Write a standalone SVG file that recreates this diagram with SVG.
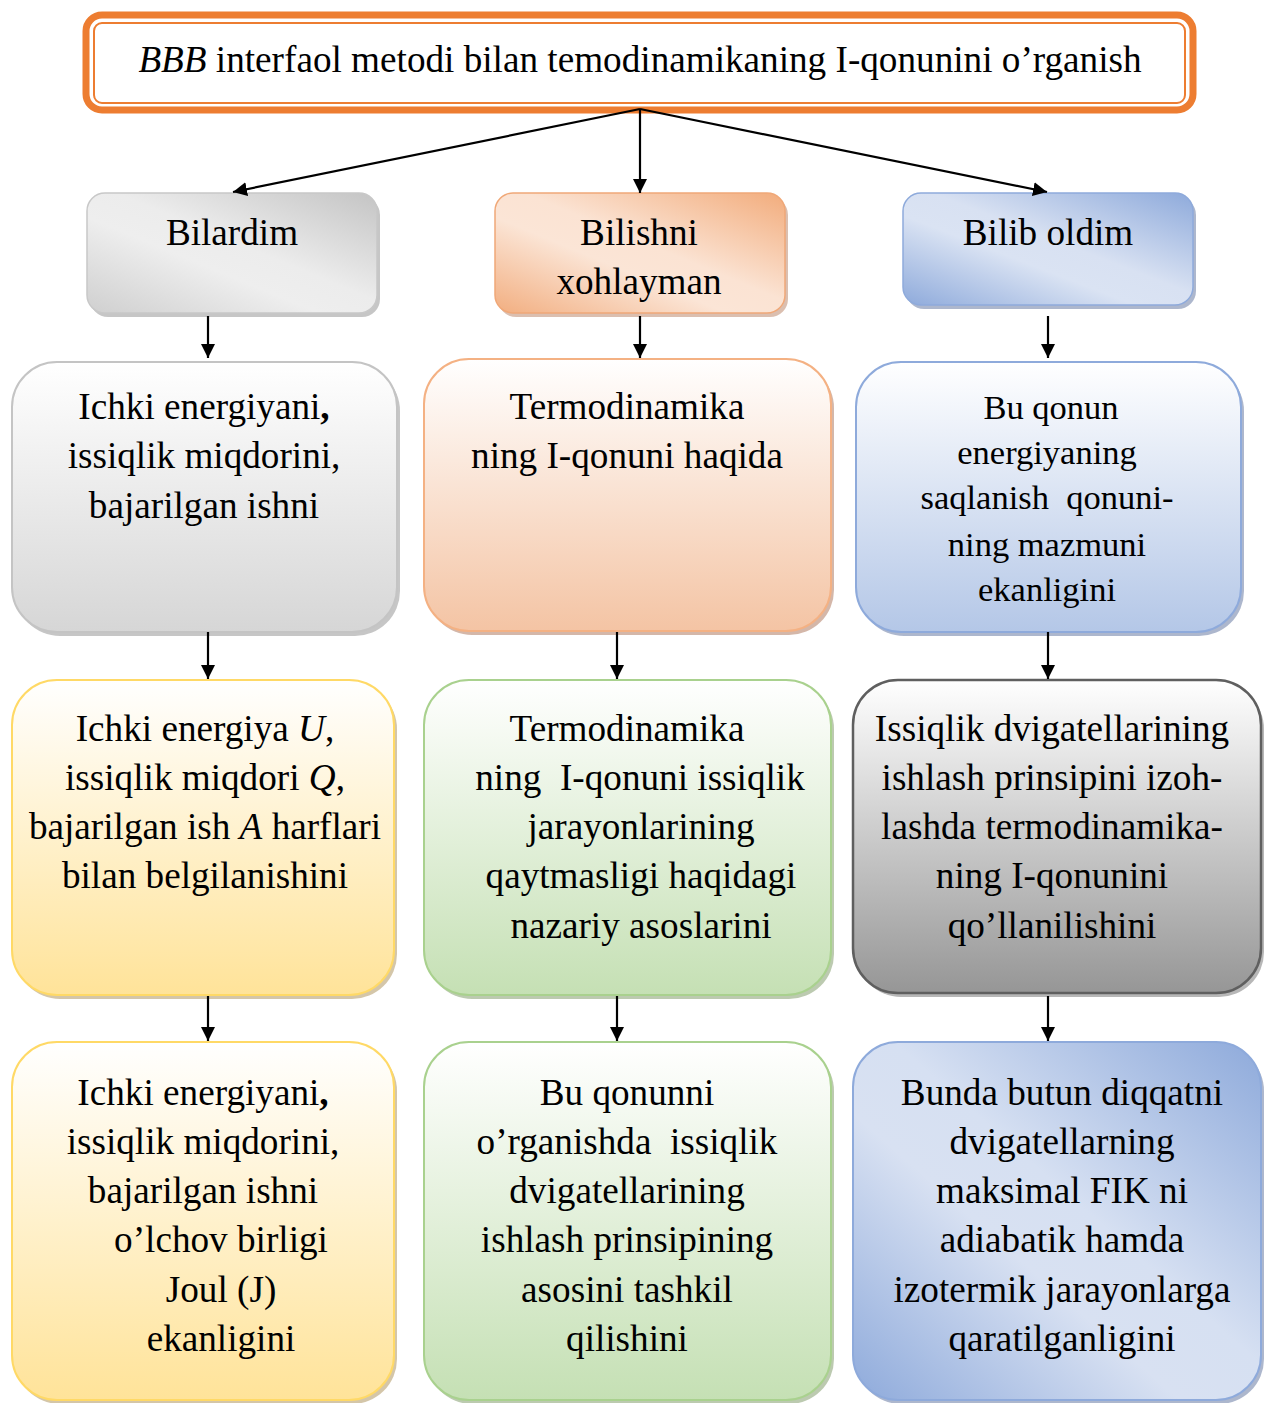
<svg xmlns="http://www.w3.org/2000/svg" width="1264" height="1403" viewBox="0 0 1264 1403">
<style>
text{font-family:"Liberation Serif","Times New Roman",serif;font-size:37.2px;fill:#000;text-anchor:middle}
.sm{font-size:34.5px}
.sh{opacity:0.45}
.conn{stroke:#000;stroke-width:2.2;fill:none}
</style>
<defs>
<marker id="ah" markerWidth="16" markerHeight="16" refX="14" refY="7" orient="auto" markerUnits="userSpaceOnUse"><path d="M0,0 L14,7 L0,14 z" fill="#000"/></marker>
<linearGradient id="hGray" x1="1" y1="0" x2="0" y2="1"><stop offset="0" stop-color="#c4c4c4"/><stop offset="0.45" stop-color="#ececec"/><stop offset="0.6" stop-color="#eeeeee"/><stop offset="1" stop-color="#cfcfcf"/></linearGradient>
<linearGradient id="hOr" x1="1" y1="0" x2="0" y2="1"><stop offset="0" stop-color="#f2ac7c"/><stop offset="0.45" stop-color="#fbe3d3"/><stop offset="0.6" stop-color="#fbe5d6"/><stop offset="1" stop-color="#f2ae80"/></linearGradient>
<linearGradient id="hBl" x1="1" y1="0" x2="0" y2="1"><stop offset="0" stop-color="#8eaadb"/><stop offset="0.45" stop-color="#d8e1f2"/><stop offset="0.6" stop-color="#dae3f3"/><stop offset="1" stop-color="#8eaadb"/></linearGradient>
<linearGradient id="vGray" x1="0" y1="0" x2="0" y2="1"><stop offset="0" stop-color="#ffffff"/><stop offset="1" stop-color="#d6d6d6"/></linearGradient>
<linearGradient id="vOr" x1="0" y1="0" x2="0" y2="1"><stop offset="0" stop-color="#ffffff"/><stop offset="1" stop-color="#f4c4a4"/></linearGradient>
<linearGradient id="vBl" x1="0" y1="0" x2="0" y2="1"><stop offset="0" stop-color="#ffffff"/><stop offset="1" stop-color="#b4c7e7"/></linearGradient>
<linearGradient id="vYe" x1="0" y1="0" x2="0" y2="1"><stop offset="0" stop-color="#ffffff"/><stop offset="1" stop-color="#ffe399"/></linearGradient>
<linearGradient id="vGr" x1="0" y1="0" x2="0" y2="1"><stop offset="0" stop-color="#ffffff"/><stop offset="1" stop-color="#c5e0b4"/></linearGradient>
<linearGradient id="vDk" x1="0" y1="0" x2="0" y2="1"><stop offset="0" stop-color="#ffffff"/><stop offset="1" stop-color="#969696"/></linearGradient>
<linearGradient id="dBl" x1="1" y1="0" x2="0" y2="1"><stop offset="0" stop-color="#8eaadb"/><stop offset="0.45" stop-color="#d6e0f2"/><stop offset="0.6" stop-color="#d8e1f2"/><stop offset="1" stop-color="#8eaadb"/></linearGradient>
</defs>

<g id="title">
<rect x="86" y="15" width="1107" height="95" rx="16" fill="#fff" stroke="#ed7d31" stroke-width="7"/>
<rect x="94" y="23" width="1091" height="80" rx="8" fill="none" stroke="#ed7d31" stroke-width="2"/>
<text x="640" y="72"><tspan font-style="italic">BBB</tspan> interfaol metodi bilan temodinamikaning I-qonunini o’rganish</text>
</g>

<g id="h1">
<rect class="sh" x="90" y="197" width="290" height="120" rx="18" fill="#808080"/>
<rect x="87" y="193" width="290" height="120" rx="18" fill="url(#hGray)" stroke="#c8c8c8" stroke-width="1.5"/>
<text x="232" y="245">Bilardim</text>
</g>
<g id="h2">
<rect class="sh" x="498" y="197" width="290" height="120" rx="18" fill="#b07050"/>
<rect x="495" y="193" width="290" height="120" rx="18" fill="url(#hOr)" stroke="#f0a878" stroke-width="1.5"/>
<text x="639" y="245">Bilishni</text>
<text x="639" y="294">xohlayman</text>
</g>
<g id="h3">
<rect class="sh" x="906" y="197" width="290" height="112" rx="18" fill="#4a6090"/>
<rect x="903" y="193" width="290" height="112" rx="18" fill="url(#hBl)" stroke="#8eaadb" stroke-width="1.5"/>
<text x="1048" y="245">Bilib oldim</text>
</g>

<g id="r2c1">
<rect class="sh" x="15" y="366" width="385" height="270" rx="45" fill="#808080"/>
<rect x="12" y="362" width="385" height="270" rx="45" fill="url(#vGray)" stroke="#c4c4c4" stroke-width="2"/>
<text x="204" y="419">Ichki energiyani<tspan font-weight="bold">,</tspan></text>
<text x="204" y="468">issiqlik miqdorini,</text>
<text x="204" y="518">bajarilgan ishni</text>
</g>
<g id="r2c2">
<rect class="sh" x="427" y="363" width="407" height="272" rx="45" fill="#a06040"/>
<rect x="424" y="359" width="407" height="272" rx="45" fill="url(#vOr)" stroke="#f4b183" stroke-width="2"/>
<text x="627" y="419">Termodinamika</text>
<text x="627" y="468">ning I-qonuni haqida</text>
</g>
<g id="r2c3">
<rect class="sh" x="859" y="366" width="385" height="270" rx="45" fill="#4a6090"/>
<rect x="856" y="362" width="385" height="270" rx="45" fill="url(#vBl)" stroke="#8eaadb" stroke-width="2"/>
<text class="sm" x="1051" y="419">Bu qonun</text>
<text class="sm" x="1047" y="464">energiyaning</text>
<text class="sm" x="1047" y="509" xml:space="preserve">saqlanish  qonuni-</text>
<text class="sm" x="1047" y="556">ning mazmuni</text>
<text class="sm" x="1047" y="601">ekanligini</text>
</g>

<g id="r3c1">
<rect class="sh" x="15" y="684" width="382" height="315" rx="45" fill="#a08040"/>
<rect x="12" y="680" width="382" height="315" rx="45" fill="url(#vYe)" stroke="#ffd966" stroke-width="2"/>
<text x="205" y="741">Ichki energiya <tspan font-style="italic">U</tspan>,</text>
<text x="205" y="790">issiqlik miqdori <tspan font-style="italic">Q</tspan>,</text>
<text x="205" y="839">bajarilgan ish <tspan font-style="italic">A</tspan> harflari</text>
<text x="205" y="888">bilan belgilanishini</text>
</g>
<g id="r3c2">
<rect class="sh" x="427" y="684" width="407" height="315" rx="45" fill="#6a8a50"/>
<rect x="424" y="680" width="407" height="315" rx="45" fill="url(#vGr)" stroke="#a9d18e" stroke-width="2"/>
<text x="627" y="741">Termodinamika</text>
<text x="640" y="790" xml:space="preserve">ning  I-qonuni issiqlik</text>
<text x="641" y="839">jarayonlarining</text>
<text x="641" y="888">qaytmasligi haqidagi</text>
<text x="641" y="938">nazariy asoslarini</text>
</g>
<g id="r3c3">
<rect class="sh" x="856" y="684" width="408" height="313" rx="45" fill="#606060"/>
<rect x="853" y="680" width="408" height="313" rx="45" fill="url(#vDk)" stroke="#5f5f5f" stroke-width="2.5"/>
<text x="1052" y="741">Issiqlik dvigatellarining</text>
<text x="1052" y="790">ishlash prinsipini izoh-</text>
<text x="1052" y="839">lashda termodinamika-</text>
<text x="1052" y="888">ning I-qonunini</text>
<text x="1052" y="938">qo’llanilishini</text>
</g>

<g id="r4c1">
<rect class="sh" x="15" y="1046" width="382" height="358" rx="45" fill="#a08040"/>
<rect x="12" y="1042" width="382" height="358" rx="45" fill="url(#vYe)" stroke="#ffd966" stroke-width="2"/>
<text x="203" y="1105">Ichki energiyani<tspan font-weight="bold">,</tspan></text>
<text x="203" y="1154">issiqlik miqdorini,</text>
<text x="203" y="1203">bajarilgan ishni</text>
<text x="221" y="1252">o’lchov birligi</text>
<text x="221" y="1302">Joul (J)</text>
<text x="221" y="1351">ekanligini</text>
</g>
<g id="r4c2">
<rect class="sh" x="427" y="1046" width="407" height="358" rx="45" fill="#6a8a50"/>
<rect x="424" y="1042" width="407" height="358" rx="45" fill="url(#vGr)" stroke="#a9d18e" stroke-width="2"/>
<text x="627" y="1105">Bu qonunni</text>
<text x="627" y="1154" xml:space="preserve">o’rganishda  issiqlik</text>
<text x="627" y="1203">dvigatellarining</text>
<text x="627" y="1252">ishlash prinsipining</text>
<text x="627" y="1302">asosini tashkil</text>
<text x="627" y="1351">qilishini</text>
</g>
<g id="r4c3">
<rect class="sh" x="856" y="1046" width="408" height="358" rx="45" fill="#4a6090"/>
<rect x="853" y="1042" width="408" height="358" rx="45" fill="url(#dBl)" stroke="#8eaadb" stroke-width="2"/>
<text x="1062" y="1105">Bunda butun diqqatni</text>
<text x="1062" y="1154">dvigatellarning</text>
<text x="1062" y="1203">maksimal FIK ni</text>
<text x="1062" y="1252">adiabatik hamda</text>
<text x="1062" y="1302">izotermik jarayonlarga</text>
<text x="1062" y="1351">qaratilganligini</text>
</g>

<g id="connectors" class="conn" marker-end="url(#ah)">
<line x1="640" y1="109" x2="233" y2="192"/>
<line x1="640" y1="109" x2="640" y2="193"/>
<line x1="640" y1="109" x2="1047" y2="192"/>
<line x1="208" y1="316" x2="208" y2="358"/>
<line x1="640" y1="316" x2="640" y2="358"/>
<line x1="1048" y1="316" x2="1048" y2="358"/>
<line x1="208" y1="632" x2="208" y2="679"/>
<line x1="617" y1="632" x2="617" y2="679"/>
<line x1="1048" y1="632" x2="1048" y2="679"/>
<line x1="208" y1="996" x2="208" y2="1041"/>
<line x1="617" y1="996" x2="617" y2="1041"/>
<line x1="1048" y1="996" x2="1048" y2="1041"/>
</g>
</svg>
